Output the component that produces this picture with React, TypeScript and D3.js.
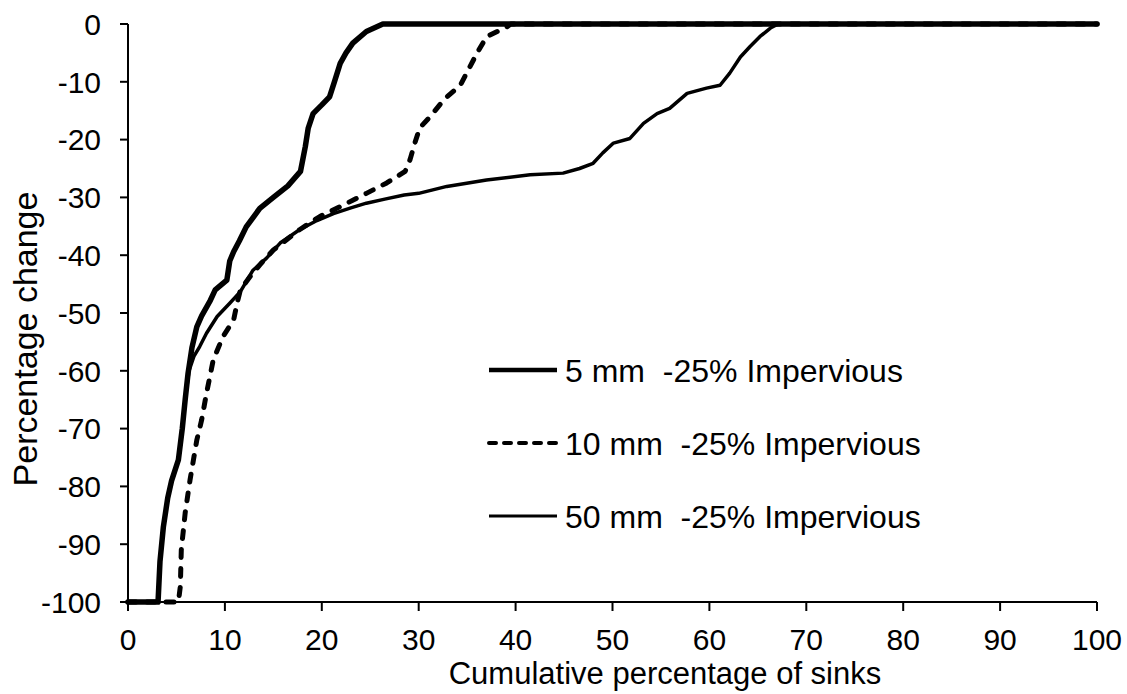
import * as d3 from "d3";

// [cumulative % of sinks, % change]
const sinks5mm: [number, number][] = [
  [0, -100], [3.1, -100], [3.3, -93], [3.65, -87], [4.1, -82], [4.5, -79], [5.2, -75.4],
  [5.6, -70], [5.9, -65], [6.2, -60.4], [6.6, -56], [7.1, -52.4], [7.6, -50.5], [8.5, -47.8],
  [9.0, -46], [10.2, -44.3], [10.5, -41], [10.9, -39.4], [11.5, -37.5], [12.2, -35.1],
  [13.6, -31.9], [15.0, -30.0], [16.5, -28], [17.8, -25.5], [18.3, -21.2], [18.6, -18],
  [19.1, -15.5], [20.0, -14], [20.8, -12.6], [21.3, -10], [21.9, -6.8], [22.5, -5],
  [23.2, -3.3], [24.6, -1.3], [26.3, 0], [100, 0],
];

const sinks10mm: [number, number][] = [
  [0, -100], [5.2, -100], [5.4, -97.3], [5.5, -91], [5.9, -84.6], [6.4, -78.9], [7.1, -72],
  [7.6, -68.5], [8.1, -63.9], [8.8, -58.1], [9.8, -54.1], [10.9, -51.2], [11.3, -48],
  [11.6, -46], [12.6, -43.7], [13.8, -41.3], [15, -39.1], [17.7, -35.6], [19.8, -33.3],
  [21.9, -31.6], [24.6, -29.3], [26.7, -27.5], [28.6, -25.5], [29.1, -23.5], [29.6, -20.6],
  [30.1, -18], [31.2, -16], [32.7, -12.9], [34.3, -10.6], [35, -8.3], [36, -5.1], [37, -2.2],
  [39.1, -0.5], [39.5, 0], [100, 0],
];

const sinks50mm: [number, number][] = [
  [0, -100], [3.1, -100], [3.3, -93], [3.65, -87], [4.1, -82], [4.5, -79], [5.2, -75.4],
  [5.6, -70], [5.9, -65], [6.3, -60], [6.8, -57.5], [7.4, -55.8], [8.1, -53.5], [9.2, -50.6],
  [10.5, -48.3], [11.6, -46.3], [12.9, -42.6], [14.3, -40.5], [15.7, -37.9], [17.7, -35.6],
  [19.5, -34], [21.2, -32.8], [23, -31.8], [24.6, -31], [26.5, -30.3], [28.5, -29.6],
  [30, -29.3], [32.9, -28.1], [37, -27], [41.5, -26.1], [44.9, -25.8], [46.6, -25],
  [48, -24.1], [49, -22.3], [50.1, -20.6], [51.8, -19.8], [53.2, -17.2], [54.6, -15.5],
  [55.9, -14.6], [57.7, -12], [59.7, -11.1], [61.1, -10.6], [62.1, -8.5], [63.2, -5.7],
  [64.2, -3.9], [65.2, -2.2], [66.3, -0.7], [67.1, 0], [100, 0],
];

const legendLabels = [
  "5 mm  -25% Impervious",
  "10 mm  -25% Impervious",
  "50 mm  -25% Impervious",
];

const xTicks = [0, 10, 20, 30, 40, 50, 60, 70, 80, 90, 100];
const yTicks = [0, -10, -20, -30, -40, -50, -60, -70, -80, -90, -100];

const width = 1127;
const height = 694;
const font = "'Liberation Sans', Arial, sans-serif";

export default function App() {
  const x = d3.scaleLinear().domain([0, 100]).range([128, 1097]);
  const y = d3.scaleLinear().domain([-100, 0]).range([602, 24]);

  const line = d3
    .line<[number, number]>()
    .x((d) => x(d[0]))
    .y((d) => y(d[1]));

  const styles = [
    { width: 5.5, dash: undefined, legendWidth: 4.5 },
    { width: 5, dash: "8,11", legendWidth: 4 },
    { width: 3.5, dash: undefined, legendWidth: 3 },
  ];
  const series = [sinks5mm, sinks10mm, sinks50mm];
  const legendY = [370, 443, 516];

  return (
    <div style={{ position: "absolute", left: 0, top: 0 }}>
      <svg width={width} height={height} style={{ display: "block", background: "#fff" }}>
        {/* axes */}
        <line x1={x(0)} x2={x(0)} y1={y(0)} y2={y(-100)} stroke="#000" strokeWidth={2} />
        <line x1={x(0)} x2={x(100)} y1={y(-100)} y2={y(-100)} stroke="#000" strokeWidth={2} />
        {yTicks.map((t) => (
          <g key={"y" + t}>
            <line x1={x(0) - 8} x2={x(0)} y1={y(t)} y2={y(t)} stroke="#000" strokeWidth={2} />
            <text
              x={x(0) - 27}
              y={y(t)}
              dy="0.36em"
              textAnchor="end"
              fontFamily={font}
              fontSize={30}
            >
              {t}
            </text>
          </g>
        ))}
        {xTicks.map((t) => (
          <g key={"x" + t}>
            <line x1={x(t)} x2={x(t)} y1={y(-100)} y2={y(-100) + 9} stroke="#000" strokeWidth={2} />
            <text x={x(t)} y={650} textAnchor="middle" fontFamily={font} fontSize={30}>
              {t}
            </text>
          </g>
        ))}
        <text x={665} y={684} textAnchor="middle" fontFamily={font} fontSize={31}>
          Cumulative percentage of sinks
        </text>
        <text
          transform="translate(37,339) rotate(-90)"
          textAnchor="middle"
          fontFamily={font}
          fontSize={34}
        >
          Percentage change
        </text>

        {/* curves */}
        {[2, 1, 0].map((i) => (
          <path
            key={"s" + i}
            d={line(series[i]) ?? ""}
            fill="none"
            stroke="#000"
            strokeWidth={styles[i].width}
            strokeDasharray={styles[i].dash}
            strokeLinecap="round"
            strokeLinejoin="round"
          />
        ))}

        {/* legend */}
        {legendLabels.map((label, i) => (
          <g key={label}>
            <line
              x1={489}
              x2={557}
              y1={legendY[i]}
              y2={legendY[i]}
              stroke="#000"
              strokeWidth={styles[i].legendWidth}
              strokeDasharray={i === 1 ? "7,8" : undefined}
              strokeLinecap={i === 1 ? "round" : "butt"}
            />
            <text
              x={565}
              y={legendY[i]}
              dy="0.36em"
              fontFamily={font}
              fontSize={32}
              style={{ whiteSpace: "pre" }}
            >
              {label}
            </text>
          </g>
        ))}
      </svg>
    </div>
  );
}
